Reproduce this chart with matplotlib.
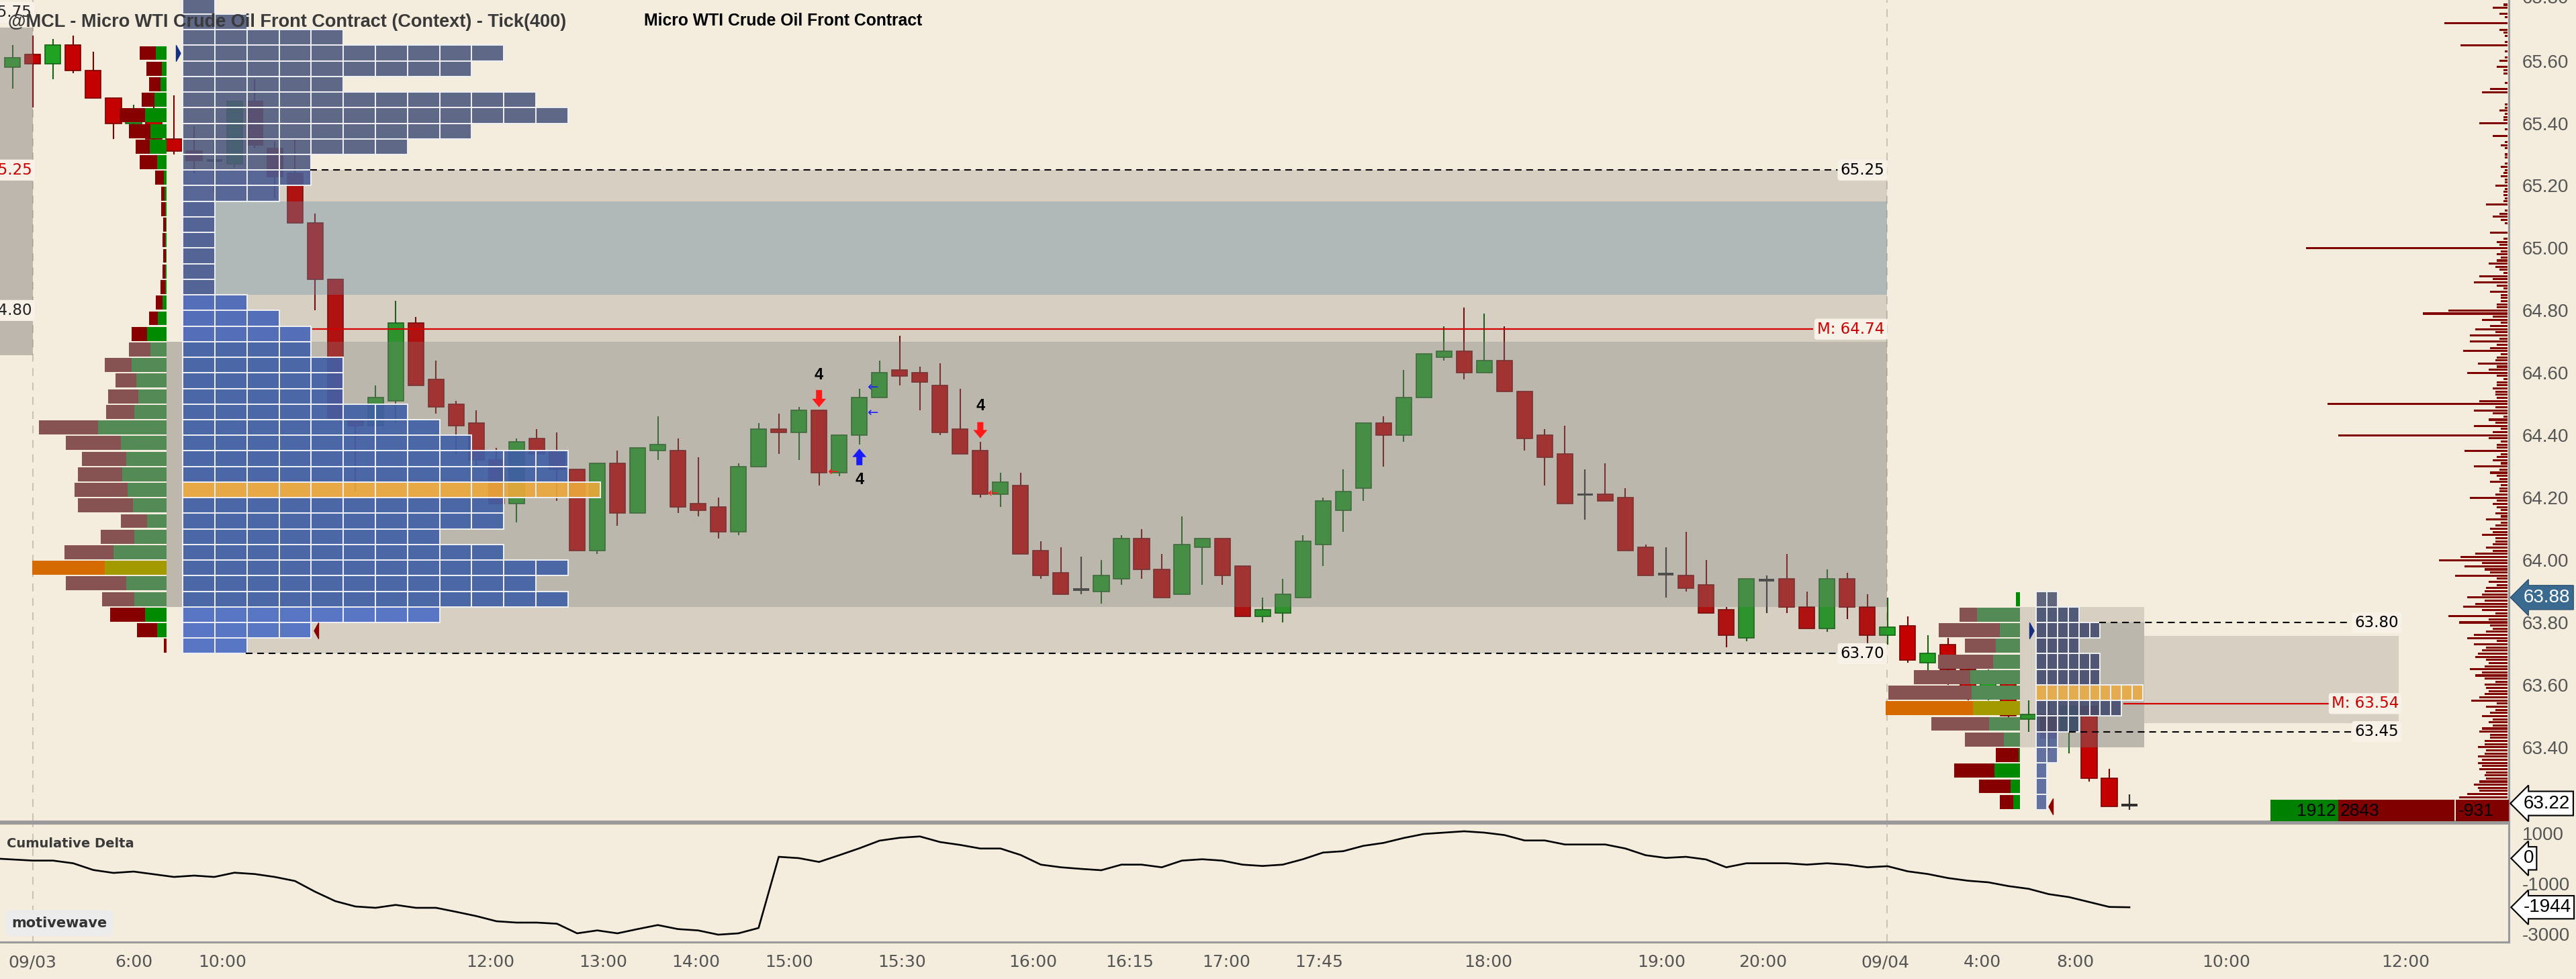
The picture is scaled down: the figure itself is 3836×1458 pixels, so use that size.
import numpy as np
import matplotlib
matplotlib.use("Agg")
import matplotlib.pyplot as plt
import matplotlib.transforms as mtransforms
from matplotlib.patches import Rectangle
from matplotlib.path import Path
from matplotlib.colors import to_rgba

# ---------------- data ----------------
opens = [65.58, 65.62, 65.59, 65.65, 65.57, 65.48, 65.40, 65.44, 65.35, 65.31,
         65.28, 65.27, 65.47, 65.32, 65.24, 65.08, 64.90, 64.45, 64.43, 64.51,
         64.76, 64.58, 64.50, 64.44, 64.32, 64.18, 64.39, 64.35, 64.29, 64.03,
         64.31, 64.15, 64.35, 64.35, 64.18, 64.17, 64.09, 64.30, 64.42, 64.41,
         64.48, 64.28, 64.40, 64.52, 64.61, 64.60, 64.56, 64.42, 64.35, 64.21,
         64.24, 64.03, 63.96, 63.905, 63.90, 63.94, 64.07, 63.97, 63.89, 64.04,
         64.07, 63.98, 63.82, 63.83, 63.88, 64.05, 64.16, 64.23, 64.44, 64.40,
         64.52, 64.65, 64.67, 64.60, 64.64, 64.54, 64.40, 64.34, 64.21, 64.21,
         64.20, 64.04, 63.955, 63.95, 63.92, 63.84, 63.75, 63.935, 63.94, 63.85,
         63.78, 63.94, 63.85, 63.76, 63.79, 63.67, 63.73, 63.65, 63.57, 63.61,
         63.49, 63.505, 63.45, 63.53, 63.30, 63.215]
highs = [65.65, 65.68, 65.67, 65.68, 65.63, 65.48, 65.46, 65.47, 65.49, 65.39,
         65.34, 65.47, 65.54, 65.34, 65.35, 65.11, 64.90, 64.45, 64.56, 64.83,
         64.78, 64.64, 64.51, 64.48, 64.36, 64.39, 64.42, 64.41, 64.29, 64.31,
         64.35, 64.36, 64.46, 64.39, 64.33, 64.20, 64.31, 64.44, 64.47, 64.49,
         64.48, 64.40, 64.55, 64.64, 64.72, 64.62, 64.63, 64.55, 64.38, 64.28,
         64.28, 64.06, 64.04, 64.01, 64.00, 64.08, 64.10, 64.02, 64.14, 64.07,
         64.07, 63.98, 63.88, 63.94, 64.08, 64.20, 64.29, 64.44, 64.46, 64.61,
         64.66, 64.75, 64.81, 64.79, 64.75, 64.54, 64.42, 64.43, 64.29, 64.31,
         64.23, 64.05, 64.04, 64.09, 64.00, 63.85, 63.94, 63.95, 64.02, 63.90,
         63.97, 63.96, 63.89, 63.88, 63.82, 63.76, 63.75, 63.68, 63.65, 63.63,
         63.55, 63.55, 63.56, 63.54, 63.33, 63.25]
lows = [65.51, 65.45, 65.54, 65.56, 65.48, 65.35, 65.38, 65.33, 65.30, 65.24,
        65.18, 65.26, 65.32, 65.16, 65.08, 64.80, 64.45, 64.22, 64.32, 64.44,
        64.56, 64.47, 64.34, 64.30, 64.18, 64.12, 64.22, 64.19, 64.03, 64.02,
        64.11, 64.15, 64.32, 64.15, 64.14, 64.07, 64.08, 64.30, 64.34, 64.32,
        64.24, 64.27, 64.37, 64.52, 64.56, 64.48, 64.40, 64.34, 64.20, 64.17,
        64.02, 63.94, 63.89, 63.89, 63.86, 63.92, 63.94, 63.88, 63.89, 63.92,
        63.92, 63.82, 63.80, 63.80, 63.88, 63.98, 64.09, 64.19, 64.30, 64.38,
        64.52, 64.64, 64.58, 64.60, 64.54, 64.35, 64.24, 64.18, 64.13, 64.19,
        64.03, 63.95, 63.88, 63.90, 63.83, 63.72, 63.74, 63.83, 63.83, 63.78,
        63.77, 63.81, 63.73, 63.73, 63.67, 63.64, 63.60, 63.55, 63.55, 63.49,
        63.45, 63.39, 63.38, 63.29, 63.21, 63.20]
closes = [65.61, 65.59, 65.65, 65.57, 65.48, 65.40, 65.44, 65.35, 65.31, 65.28,
          65.28, 65.47, 65.33, 65.23, 65.08, 64.90, 64.45, 64.43, 64.52, 64.76,
          64.56, 64.49, 64.43, 64.32, 64.18, 64.38, 64.34, 64.29, 64.03, 64.31,
          64.15, 64.36, 64.37, 64.17, 64.16, 64.09, 64.30, 64.42, 64.41, 64.48,
          64.28, 64.40, 64.52, 64.60, 64.59, 64.57, 64.41, 64.34, 64.21, 64.25,
          64.02, 63.95, 63.89, 63.905, 63.95, 64.07, 63.97, 63.88, 64.05, 64.07,
          63.95, 63.82, 63.84, 63.89, 64.06, 64.19, 64.22, 64.44, 64.40, 64.52,
          64.66, 64.67, 64.60, 64.64, 64.54, 64.39, 64.33, 64.18, 64.21, 64.19,
          64.03, 63.95, 63.955, 63.91, 63.83, 63.76, 63.94, 63.935, 63.85, 63.78,
          63.94, 63.85, 63.76, 63.785, 63.68, 63.70, 63.65, 63.57, 63.61, 63.50,
          63.505, 63.43, 63.53, 63.30, 63.21, 63.215]

# cumulative delta per bar; the first value belongs to the bar just left of the view
cum_delta_prev = 0
cum_delta = [-45, -89, -89, -196, -463, -579, -525, -632, -739, -685,
             -739, -570, -623, -739, -899, -1325, -1699, -1912, -1965, -1850,
             -1965, -1965, -2125, -2294, -2499, -2552, -2552, -2597, -2979, -2863,
             -2979, -2810, -2650, -2810, -2863, -3032, -2979, -2766, 61, 8,
             -143, 124, 399, 702, 817, 870, 648, 533, 390, 390,
             133, -250, -356, -419, -472, -250, -250, -356, -90, -36,
             -90, -250, -303, -250, -36, 230, 284, 497, 613, 808,
             968, 1022, 1075, 1022, 924, 710, 710, 550, 550, 550,
             390, 124, 17, 61, -45, -356, -196, -196, -196, -250,
             -196, -250, -356, -312, -516, -623, -783, -890, -952, -1103,
             -1210, -1423, -1539, -1734, -1930, -1944]

time_labels = ['09/03', '6:00', '10:00', '12:00', '13:00', '14:00', '15:00', '15:30',
               '16:00', '16:15', '17:00', '17:45', '18:00', '19:00', '20:00', '09/04',
               '4:00', '8:00', '10:00', '12:00']
time_label_bars = [0.97, 6.0, 10.4, 23.7, 29.3, 33.9, 38.5, 44.1, 50.6, 55.4, 60.2,
                   64.8, 73.2, 81.8, 86.8, 92.9, 97.7, 102.3, 109.8, 118.7]

price_ticks = [63.40, 63.60, 63.80, 64.00, 64.20, 64.40, 64.60, 64.80, 65.00,
               65.20, 65.40, 65.60]
cd_ticks = [1000, -1000, -3000]

# session 09/03 volume profile (cells), rows of 0.05 from 63.725 upward
left_profile_prices = [63.725, 63.775, 63.825, 63.875, 63.925, 63.975, 64.025, 64.075,
                       64.125, 64.175, 64.225, 64.275, 64.325, 64.375, 64.425, 64.475,
                       64.525, 64.575, 64.625, 64.675, 64.725, 64.775, 64.825, 64.875,
                       64.925, 64.975, 65.025, 65.075, 65.125, 65.175, 65.225, 65.275,
                       65.325, 65.375, 65.425, 65.475, 65.525, 65.575, 65.625, 65.675,
                       65.725, 65.775]
left_profile_cells = [2, 4, 8, 12, 11, 12, 10, 8, 10, 10, 13, 12, 12, 9, 8, 7, 5, 5, 5,
                      4, 4, 3, 2, 1, 1, 1, 1, 1, 1, 3, 4, 4, 7, 9, 12, 11, 5, 9, 10,
                      5, 2, 1]
left_poc = 64.225

# session 09/03 delta profile (sell / buy)
left_delta_prices = left_profile_prices[:39]
left_sell = [4, 30, 52, 48, 90, 108, 73, 50, 39, 82, 79, 66, 66, 82, 88, 42, 45, 31, 40,
             32, 23, 13, 10, 7, 4, 4, 4, 4, 6, 5, 13, 26, 21, 32, 38, 19, 17, 23, 24]
left_buy = [0, 14, 32, 48, 60, 92, 79, 48, 29, 50, 58, 66, 60, 68, 102, 48, 42, 45, 52,
            24, 29, 13, 6, 2, 2, 1, 2, 1, 2, 3, 4, 14, 25, 24, 32, 18, 9, 7, 16]
left_delta_poc = 63.975

# session 09/04
right_profile_prices = [63.225, 63.275, 63.325, 63.375, 63.425, 63.475, 63.525,
                        63.575, 63.625, 63.675, 63.725, 63.775, 63.825, 63.875]
right_profile_cells = [1, 1, 1, 2, 2, 4, 8, 10, 6, 6, 4, 6, 4, 2]
right_poc = 63.575
right_sell = [20, 47, 60, 34, 58, 86, 130, 124, 84, 82, 46, 91, 26, 0]
right_buy = [10, 14, 38, 2, 24, 46, 70, 72, 74, 40, 36, 30, 64, 6]
right_delta_poc = 63.525

# volume by price (right edge), upper part with gaps
vbp_upper_prices = [65.78, 65.77, 65.75, 65.74, 65.72, 65.70, 65.69, 65.68, 65.66, 65.65,
                    65.63, 65.61, 65.60, 65.58, 65.57, 65.56, 65.53, 65.51, 65.50, 65.46,
                    65.45, 65.44, 65.43, 65.42, 65.41, 65.40, 65.38, 65.36, 65.34, 65.33,
                    65.32, 65.30, 65.29, 65.27, 65.26, 65.25, 65.24, 65.23, 65.22, 65.21,
                    65.20, 65.19, 65.18, 65.17, 65.16, 65.15, 65.14, 65.12, 65.11, 65.10,
                    65.09, 65.08, 65.05, 65.03, 65.02, 65.01, 65.00, 64.99, 64.98, 64.97,
                    64.96, 64.95, 64.94, 64.93, 64.92, 64.91, 64.90, 64.89, 64.88, 64.87,
                    64.86, 64.85, 64.84, 64.83, 64.82, 64.81, 64.80, 64.79, 64.78, 64.77,
                    64.76, 64.75, 64.74, 64.73, 64.72]
vbp_upper_vol = [6, 22, 12, 4, 94, 12, 6, 4, 4, 70,
                 4, 4, 12, 16, 6, 6, 4, 26, 38, 4,
                 4, 12, 4, 6, 6, 42, 4, 22, 4, 10,
                 4, 4, 4, 4, 10, 4, 6, 10, 4, 4,
                 18, 4, 6, 6, 4, 6, 32, 4, 12, 22,
                 10, 4, 26, 6, 16, 12, 300, 10, 16, 10,
                 16, 28, 18, 12, 6, 42, 22, 50, 16, 6,
                 26, 10, 10, 10, 16, 16, 88, 126, 22, 38,
                 10, 26, 48, 18, 56]
# contiguous part: every tick from 64.71 down to 63.24
vbp_lower_top = 64.71
vbp_lower_vol = [12, 56, 16, 26, 66, 10, 16, 18, 44, 16,
                 28, 60, 16, 6, 16, 16, 22, 18, 18, 16,
                 42, 268, 18, 50, 22, 6, 28, 18, 50, 10,
                 22, 252, 28, 10, 16, 16, 64, 10, 16, 22,
                 10, 50, 12, 26, 16, 12, 26, 10, 12, 12,
                 18, 56, 16, 22, 16, 10, 18, 10, 32, 10,
                 18, 26, 22, 38, 18, 18, 22, 32, 22, 48,
                 70, 102, 38, 64, 34, 26, 78, 16, 28, 16,
                 32, 34, 38, 60, 34, 48, 66, 38, 18, 88,
                 28, 72, 26, 22, 32, 50, 60, 16, 50, 32,
                 38, 44, 48, 32, 28, 34, 56, 38, 48, 34,
                 18, 34, 32, 28, 34, 42, 54, 16, 32, 18,
                 26, 38, 22, 28, 22, 38, 42, 26, 26, 34,
                 34, 44, 32, 34, 44, 38, 44, 38, 42, 32,
                 34, 32, 42, 50, 44, 42, 60, 72]

buy_volume, sell_volume, net_delta = 1912, 2843, -931
last_price, marker_price, last_delta = 63.22, 63.88, -1944

# ---------------- figure ----------------
BG = '#f4ecdc'
W, H = 3836, 1458
fig = plt.figure(figsize=(W / 100, H / 100), dpi=100)
fig.patch.set_facecolor(BG)
ax = fig.add_axes([0, 1 - 1223 / H, 3736 / W, 1223 / H])
cd = fig.add_axes([0, 1 - 1403 / H, 3736 / W, 177 / H])
XL = (-0.628, 123.82)
for a in (ax, cd):
    a.set_facecolor(BG)
    a.set_xlim(*XL)
ax.set_ylim(63.163, 65.795)
cd.set_ylim(-3326, 1395)
PX = 1 / 30.02  # bar units per screen pixel

# ---- candles ----
x = np.arange(len(opens))
O, Hh, L, C = (np.array(v) for v in (opens, highs, lows, closes))
up = (C - O) > 0.003
dn = (O - C) > 0.003
fl = ~(up | dn)
GREEN, GREEN_E = '#22a222', '#146414'
RED, RED_E = '#c40000', '#7a0000'
ax.vlines(x[up], L[up], Hh[up], color=GREEN_E, lw=1.5, zorder=2)
ax.vlines(x[dn], L[dn], Hh[dn], color=RED_E, lw=1.5, zorder=2)
ax.vlines(x[fl], L[fl], Hh[fl], color='#303030', lw=1.6, zorder=2)
ax.bar(x[up], C[up] - O[up], bottom=O[up], width=0.77, color=GREEN,
       edgecolor=GREEN_E, lw=1.2, zorder=2.2)
ax.bar(x[dn], O[dn] - C[dn], bottom=C[dn], width=0.77, color=RED,
       edgecolor=RED_E, lw=1.2, zorder=2.2)
ax.bar(x[fl], 0.008, bottom=O[fl] - 0.004, width=0.77, color='#303030', lw=0, zorder=2.2)


# ---- value-area boxes (semi transparent, over candles) ----
def box(x0, x1, y0, y1, spec, z=3):
    rgb, a = spec
    ax.add_patch(Rectangle((x0, y0), x1 - x0, y1 - y0,
                           facecolor=(rgb[0] / 255, rgb[1] / 255, rgb[2] / 255, a),
                           edgecolor='none', zorder=z))


LIGHT = ((94, 91, 90), 0.2)
DARK_ON_LIGHT = ((131, 130, 127), 0.3)
DARK_ALONE = ((122, 120, 118), 0.45)
BLUISH = ((105, 144, 168), 0.35)
S1, S2 = 1.0, 92.97  # session boundaries
box(XL[0], S1, 64.656, 65.706, DARK_ALONE)
box(8.44, S2, 63.70, 65.25, LIGHT)
box(8.44, S2, 64.85, 65.15, BLUISH)
box(8.44, S2, 63.85, 64.70, DARK_ON_LIGHT)
box(7.64, 8.44, 63.85, 64.70, DARK_ALONE)
box(99.58, 105.73, 63.40, 63.85, LIGHT)
box(100.37, 105.73, 63.40, 63.80, DARK_ON_LIGHT)
box(105.73, 118.36, 63.478, 63.758, LIGHT)


# ---- profile cells ----
def cells(prices, counts, x0, cw, color_fn):
    for p, n in zip(prices, counts):
        col = to_rgba(color_fn(p), 0.9)
        ax.barh(np.full(n, p), np.full(n, cw), left=x0 + cw * np.arange(n), height=0.05,
                color=col, edgecolor='#eef0f3', linewidth=1.4, zorder=4)


def left_color(p):
    if abs(p - left_poc) < 1e-6:
        return '#eba83a'
    if p > 65.25:
        return '#4f5a7e'
    if p > 64.85:
        return '#4a5c92'
    if p > 64.70:
        return '#4665b6'
    if p > 63.85:
        return '#405ea6'
    return '#4a6cc4'


def right_color(p):
    if abs(p - right_poc) < 1e-6:
        return '#e9ab45'
    if p > 63.85:
        return '#4f5672'
    if p > 63.45:
        return '#434d6e'
    return '#52649a'


cells(left_profile_prices, left_profile_cells, 8.44, 1.592, left_color)
cells(right_profile_prices, right_profile_cells, 100.37, 0.53, right_color)


# ---- delta profiles ----
def delta_profile(prices, sell, buy, right, poc, va):
    for p, s, b in zip(prices, sell, buy):
        if abs(p - poc) < 1e-6:
            cs, cb = '#d46a00', '#a39a00'
        elif va[0] < p < va[1]:
            cs, cb = '#875252', '#538a55'
        else:
            cs, cb = '#860000', '#008a00'
        ax.barh(p, s * PX, left=right - (s + b) * PX, height=0.045, color=cs, zorder=4)
        ax.barh(p, b * PX, left=right - b * PX, height=0.045, color=cb, zorder=4)


delta_profile(left_delta_prices, left_sell, left_buy, 7.64, left_delta_poc, (63.85, 64.70))
delta_profile(right_profile_prices, right_sell, right_buy, 99.58, right_delta_poc, (63.40, 63.85))

# ---- volume by price histogram at right edge ----
vbp_prices = np.concatenate([np.array(vbp_upper_prices),
                             np.round(vbp_lower_top - 0.01 * np.arange(len(vbp_lower_vol)), 2)])
vbp_vol = np.concatenate([np.array(vbp_upper_vol), np.array(vbp_lower_vol)])
HR = 123.77
ax.barh(vbp_prices, vbp_vol * PX, left=HR - vbp_vol * PX, height=0.0066,
        color='#800000', zorder=4)

# ---- level lines & labels ----
DASH = (0, (4.8, 3.4))
LBL = dict(fontsize=16.5, va='center', zorder=7,
           bbox=dict(boxstyle='round,pad=0.18', fc='#f7f1e7', ec='none'))
ax.hlines(65.25, 14.75, 90.65, colors='black', linestyles=DASH, lw=1.5, zorder=5)
ax.text(92.85, 65.25, '65.25', ha='right', color='black', **LBL)
ax.hlines(63.70, 11.57, 90.6, colors='black', linestyles=DASH, lw=1.5, zorder=5)
ax.text(92.85, 63.70, '63.70', ha='right', color='black', **LBL)
ax.hlines(64.74, 14.85, 89.3, colors='#d40000', lw=1.6, zorder=5)
ax.text(92.85, 64.74, 'M: 64.74', ha='right', color='#cc0000', **LBL)
ax.hlines(63.80, 103.5, 116.0, colors='black', linestyles=DASH, lw=1.5, zorder=5)
ax.text(118.36, 63.80, '63.80', ha='right', color='black', **LBL)
ax.hlines(63.45, 102.0, 116.0, colors='black', linestyles=DASH, lw=1.5, zorder=5)
ax.text(118.36, 63.45, '63.45', ha='right', color='black', **LBL)
ax.hlines(63.54, 104.7, 114.9, colors='#d40000', lw=1.6, zorder=5)
ax.text(118.36, 63.54, 'M: 63.54', ha='right', color='#cc0000', **LBL)
ax.text(0.96, 65.755, '65.75', ha='right', color='#222222', clip_on=True, **LBL)
ax.text(0.96, 65.25, '65.25', ha='right', color='#cc0000', clip_on=True, **LBL)
ax.text(0.96, 64.80, '64.80', ha='right', color='#222222', clip_on=True, **LBL)

# session separators
for a in (ax, cd):
    for s in (S1, S2):
        a.axvline(s, color='#c9c1b3', lw=1.4, ls=(0, (6, 5)), zorder=1.5)

# profile markers
tri_r = Path([(0, -1), (0.55, 0), (0, 1), (0, -1)],
             [Path.MOVETO, Path.LINETO, Path.LINETO, Path.CLOSEPOLY])
tri_l = Path([(0, -1), (-0.55, 0), (0, 1), (0, -1)],
             [Path.MOVETO, Path.LINETO, Path.LINETO, Path.CLOSEPOLY])
ax.plot([8.1], [65.625], marker=tri_r, ms=17, color='#153080', ls='none', zorder=6)
ax.plot([15.15], [63.775], marker=tri_l, ms=17, color='#8b0000', ls='none', zorder=6)
ax.plot([100.05], [63.775], marker=tri_r, ms=17, color='#153080', ls='none', zorder=6)
ax.plot([101.2], [63.21], marker=tri_l, ms=17, color='#8b0000', ls='none', zorder=6)


# signals
def sig(xb, tip, tail, color):
    ax.annotate('', xy=(xb, tip), xytext=(xb, tail), zorder=6,
                arrowprops=dict(facecolor=color, edgecolor='none', width=6.5,
                                headwidth=15, headlength=9, shrink=0))


sig(40, 64.49, 64.545, '#ff1a1a')
sig(42, 64.357, 64.304, '#1a1aff')
sig(48, 64.39, 64.442, '#ff1a1a')
for xb, yv in ((40, 64.592), (42, 64.258), (48, 64.494)):
    ax.text(xb, yv, '4', ha='center', va='center', fontsize=17, fontweight='bold',
            family='Liberation Sans', color='black', zorder=6)
for xb, yv, col in ((40.7, 64.282, '#ff1a1a'), (42.65, 64.553, '#1a1aff'),
                    (42.65, 64.471, '#1a1aff'), (48.6, 64.213, '#ff1a1a')):
    ax.text(xb, yv, '\u2190', ha='center', va='center', fontsize=14, color=col, zorder=6)

# buy/sell summary boxes
ax.add_patch(Rectangle((112.0, 63.163), 3.35, 0.069, fc='#008000', ec='none', zorder=5))
ax.add_patch(Rectangle((115.35, 63.163), 5.78, 0.069, fc='#800000', ec='none', zorder=5))
ax.add_patch(Rectangle((121.2, 63.163), 2.62, 0.069, fc='#800000', ec='none', zorder=5))
SUM = dict(va='center', fontsize=19, family='Liberation Sans', color='black', zorder=6)
ax.text(115.25, 63.196, f'{buy_volume}', ha='right', **SUM)
ax.text(115.45, 63.196, f'{sell_volume}', ha='left', **SUM)
ax.text(122.2, 63.196, f'{net_delta}', ha='center', **SUM)

# titles
ax.text(0.0032, 0.973, '@MCL - Micro WTI Crude Oil Front Contract (Context) - Tick(400)',
        transform=ax.transAxes, ha='left', va='center', fontsize=19.5, fontweight='bold',
        family='Liberation Sans', color='#3a3a3a', zorder=8)
ax.text(0.2567, 0.975, 'Micro WTI Crude Oil Front Contract', transform=ax.transAxes,
        ha='left', va='center', fontsize=17.8, fontweight='bold',
        family='Liberation Sans', color='black', zorder=8)

# ---- price axis ----
ax.yaxis.tick_right()
ax.set_yticks(price_ticks)
ax.set_yticklabels([f'{t:.2f}' for t in price_ticks], fontsize=20,
                   family='Liberation Sans', color='#555555')
ax.tick_params(axis='y', length=0, pad=14)
ax.set_xticks([])
trans = mtransforms.blended_transform_factory(ax.transAxes, ax.transData)
ax.text(1.0052, 65.80, '65.80', transform=trans, ha='left', va='center', fontsize=20,
        family='Liberation Sans', color='#555555', clip_on=False)
ax.text(1.0058, marker_price, f'{marker_price:.2f}', transform=trans, ha='left',
        va='center', fontsize=20, family='Liberation Sans', color='white', zorder=9,
        bbox=dict(boxstyle='larrow,pad=0.18', fc='#3b6a91', ec='#2c5070', lw=1))
ax.text(1.0058, last_price, f'{last_price:.2f}', transform=trans, ha='left',
        va='center', fontsize=20, family='Liberation Sans', color='black', zorder=9,
        bbox=dict(boxstyle='larrow,pad=0.18', fc='white', ec='black', lw=1.5))

# ---- cumulative delta ----
cd.plot(np.concatenate([[-1], x]), [cum_delta_prev] + cum_delta, color='black', lw=1.9,
        zorder=3)
cd.yaxis.tick_right()
cd.set_yticks(cd_ticks)
cd.set_yticklabels([str(t) for t in cd_ticks], fontsize=20, family='Liberation Sans',
                   color='#555555')
cd.tick_params(axis='y', length=0, pad=14)
cd.set_xticks(time_label_bars)
cd.set_xticklabels(time_labels, fontsize=18, color='#555555')
cd.tick_params(axis='x', length=0, pad=13)
ctrans = mtransforms.blended_transform_factory(cd.transAxes, cd.transData)
cd.text(1.0058, 0, '0', transform=ctrans, ha='left', va='center', fontsize=20,
        family='Liberation Sans', color='black', zorder=9,
        bbox=dict(boxstyle='larrow,pad=0.15', fc='white', ec='black', lw=1.5))
cd.text(1.0058, last_delta, f'{last_delta}', transform=ctrans, ha='left', va='center',
        fontsize=20, family='Liberation Sans', color='black', zorder=9,
        bbox=dict(boxstyle='larrow,pad=0.15', fc='white', ec='black', lw=1.5))
cd.text(0.0027, 0.8266, 'Cumulative Delta', transform=cd.transAxes, ha='left',
        va='center', fontsize=14, fontweight='bold', color='#3a3a3a')
cd.text(0.0236, 0.16, 'motivewave', transform=cd.transAxes, ha='center', va='center',
        fontsize=15, fontweight='bold', color='#333333',
        bbox=dict(boxstyle='round,pad=0.45', fc='#ececec', ec='none'))

# spines
for a in (ax, cd):
    a.spines['left'].set_visible(False)
    for s in ('right', 'bottom', 'top'):
        a.spines[s].set_color('#9a9a9a')
        a.spines[s].set_linewidth(2.2)
ax.spines['top'].set_visible(False)

fig.savefig('out.png', dpi=100, facecolor=BG)
